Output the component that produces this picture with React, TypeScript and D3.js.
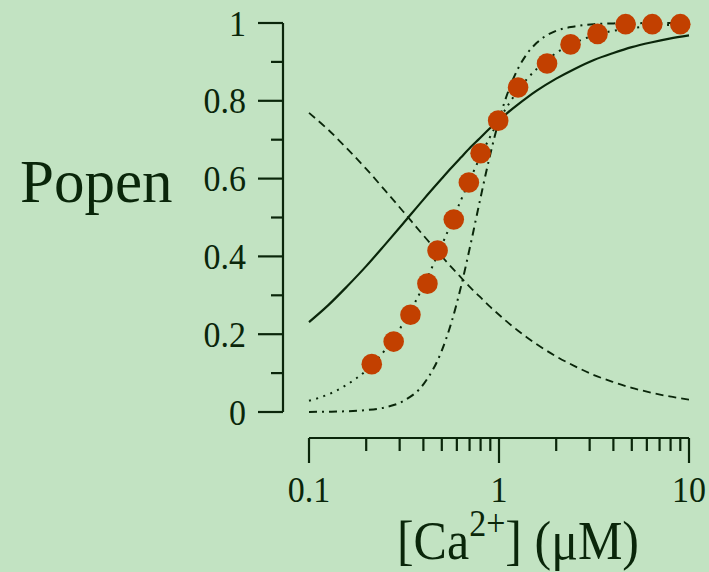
import React from "react";
import * as d3 from "d3";

// Calcium concentration grid (µM) for the model curves
const gridX = [0.1, 0.126, 0.158, 0.2, 0.25, 0.316, 0.4, 0.5, 0.56, 0.63, 0.71, 0.79, 0.89, 1, 1.12, 1.26, 1.41, 1.58, 2, 2.5, 3.16, 4, 5, 6.3, 7.9, 10];

// Open probability, single-site model (solid)
const solidY = [0.231, 0.274, 0.322, 0.375, 0.429, 0.487, 0.546, 0.6, 0.627, 0.654, 0.681, 0.703, 0.728, 0.75, 0.771, 0.791, 0.809, 0.826, 0.857, 0.882, 0.905, 0.923, 0.938, 0.95, 0.96, 0.968];
// Closed probability (dashed)
const dashedY = [0.769, 0.726, 0.678, 0.625, 0.571, 0.513, 0.454, 0.4, 0.373, 0.346, 0.319, 0.297, 0.272, 0.25, 0.229, 0.209, 0.191, 0.174, 0.143, 0.118, 0.095, 0.077, 0.062, 0.05, 0.04, 0.032];
// Two-site cooperative model (dotted)
const dottedY = [0.029, 0.045, 0.07, 0.107, 0.158, 0.231, 0.324, 0.429, 0.485, 0.544, 0.602, 0.652, 0.704, 0.75, 0.79, 0.827, 0.857, 0.882, 0.923, 0.949, 0.968, 0.98, 0.987, 0.992, 0.995, 0.997];
// Four-site cooperative model (dash-dot)
const dashDotY = [0.0003, 0.0008, 0.0019, 0.0048, 0.0116, 0.029, 0.071, 0.158, 0.228, 0.321, 0.433, 0.539, 0.653, 0.75, 0.825, 0.883, 0.922, 0.949, 0.98, 0.991, 0.997, 0.999, 0.9995, 0.9998, 0.9999, 1.0];

// Measured open probability
const obsX = [0.214, 0.279, 0.342, 0.42, 0.475, 0.578, 0.694, 0.8, 0.99, 1.26, 1.79, 2.38, 3.3, 4.64, 6.41, 9.0];
const obsY = [0.123, 0.181, 0.25, 0.33, 0.415, 0.495, 0.59, 0.665, 0.749, 0.834, 0.896, 0.945, 0.972, 0.997, 0.997, 0.997];

const yTicks = [0, 0.2, 0.4, 0.6, 0.8, 1];
const yTickLabels = ["0", "0.2", "0.4", "0.6", "0.8", "1"];
const yMinorTicks = [0.1, 0.3, 0.5, 0.7, 0.9];
const xTicks = [0.1, 1, 10];
const xTickLabels = ["0.1", "1", "10"];
const xMinorTicks = [0.2, 0.3, 0.4, 0.5, 0.6, 0.7, 0.8, 0.9, 2, 3, 4, 5, 6, 7, 8, 9];

const INK = "#0a260a";
const BG = "#c2e3c2";
const DOT = "#c24000";
const FONT = "'Liberation Serif', 'Times New Roman', serif";

export default function App() {
  const W = 709;
  const H = 572;
  const x = d3.scaleLog().domain([0.1, 10]).range([309, 689]);
  const y = d3.scaleLinear().domain([0, 1]).range([412, 23]);
  const axisY = 283;
  const axisXLine = 438;

  const line = (ys: number[]) =>
    d3
      .line<number>()
      .x((_, i) => x(gridX[i]))
      .y((v) => y(v))
      .curve(d3.curveMonotoneX)(ys) || "";

  return (
    <svg
      width={W}
      height={H}
      style={{ position: "absolute", left: 0, top: 0, background: BG }}
      fontFamily={FONT}
    >
      <rect x={0} y={0} width={W} height={H} fill={BG} />

      {/* y axis */}
      <g stroke={INK} strokeWidth={2.2} fill="none">
        <line x1={axisY} x2={axisY} y1={y(1)} y2={y(0)} />
        {yTicks.map((t) => (
          <line key={t} x1={axisY - 25} x2={axisY} y1={y(t)} y2={y(t)} />
        ))}
        {yMinorTicks.map((t) => (
          <line key={t} x1={axisY - 12} x2={axisY} y1={y(t)} y2={y(t)} />
        ))}
      </g>
      {yTicks.map((t, i) => (
        <text
          key={t}
          transform={`translate(246,${y(t) + 12.5}) scale(1,1.08)`}
          textAnchor="end"
          fontSize={34}
          fill={INK}
        >
          {yTickLabels[i]}
        </text>
      ))}

      {/* x axis */}
      <g stroke={INK} strokeWidth={2.2} fill="none">
        <line x1={x(0.1)} x2={x(10)} y1={axisXLine} y2={axisXLine} />
        {xTicks.map((t) => (
          <line key={t} x1={x(t)} x2={x(t)} y1={axisXLine} y2={axisXLine + 25} />
        ))}
        {xMinorTicks.map((t) => (
          <line key={t} x1={x(t)} x2={x(t)} y1={axisXLine} y2={axisXLine + 13} />
        ))}
      </g>
      {xTicks.map((t, i) => (
        <text
          key={t}
          transform={`translate(${x(t)},502) scale(1,1.08)`}
          textAnchor="middle"
          fontSize={34}
          fill={INK}
        >
          {xTickLabels[i]}
        </text>
      ))}

      {/* axis titles */}
      <text x={20} y={202} fontSize={61} fill={INK}>
        Popen
      </text>
      <text
        transform="translate(518,559) scale(1,1.1)"
        textAnchor="middle"
        fontSize={50}
        fill={INK}
      >
        [Ca<tspan fontSize={34} dy={-21}>2+</tspan>
        <tspan dy={21}>] (μM)</tspan>
      </text>

      {/* model curves */}
      <path d={line(solidY)} fill="none" stroke={INK} strokeWidth={2.2} />
      <path d={line(dashedY)} fill="none" stroke={INK} strokeWidth={1.8} strokeDasharray="8 5" />
      <path d={line(dottedY)} fill="none" stroke={INK} strokeWidth={2} strokeDasharray="2 5.5" />
      <path d={line(dashDotY)} fill="none" stroke={INK} strokeWidth={2} strokeDasharray="8 5 2 5" />

      {/* measured points */}
      {obsX.map((v, i) => (
        <circle key={i} cx={x(v)} cy={y(obsY[i])} r={10.3} fill={DOT} />
      ))}
    </svg>
  );
}
